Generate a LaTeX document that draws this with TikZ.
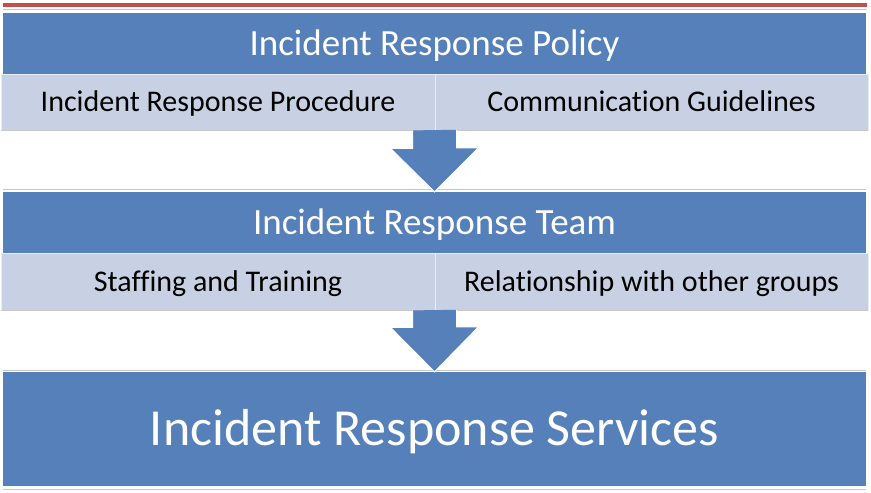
\documentclass[tikz,border=0pt]{standalone}
\usepackage{fontspec}
\setmainfont{Carlito}[Ligatures={CommonOff,RareOff,ContextualOff}]
\usepackage{tikz}
\usetikzlibrary{positioning,calc}
\definecolor{barblue}{RGB}{85,128,186}
\definecolor{rowblue}{RGB}{200,208,227}
\definecolor{rulered}{RGB}{192,80,77}
\tikzset{
    bar/.style={
        rectangle,
        fill=barblue,
        text=white,
        minimum width=863pt,
        minimum height=61pt,
        inner sep=0pt,
        text height=24pt,
        text depth=0pt,
        font=\fontsize{37}{40}\selectfont
    },
    cell/.style={
        rectangle,
        fill=rowblue,
        draw=rowblue!40!white,
        line width=0.8pt,
        minimum height=56pt,
        inner sep=0pt,
        text height=19.5pt,
        text depth=0pt,
        font=\fontsize{30}{33}\selectfont
    },
    blockarrow/.style={
        fill=barblue,
        draw=white,
        line width=1pt,
        line join=miter
    },
    shadowline/.style={
        draw=black!22,
        line width=0.9pt
    }
}

\begin{document}
\begin{tikzpicture}[x=1pt, y=-1pt]
    \useasboundingbox (0,0) rectangle (871,493);

    % top rule
    \draw[rulered, line width=4pt] (3,5) -- (867,5);
    \draw[shadowline] (3,9.5) -- (867,9.5);

    % policy
    \node[bar] (policy) at (434.5,43.5) {Incident Response Policy};
    \node[cell, minimum width=434pt] (procedure) at (218,102) {Incident Response Procedure};
    \node[cell, minimum width=433pt] (guidelines) at (651.5,102) {Communication Guidelines};
    \draw[shadowline] (procedure.south west) -- (guidelines.south east);

    % team
    \draw[shadowline] (3,189) -- (866,189);
    \node[bar] (team) at (434.5,222.5) {Incident Response Team};
    \node[cell, minimum width=434pt, minimum height=57pt] (staffing) at (218,281.5) {Staffing and Training};
    \node[cell, minimum width=433pt, minimum height=57pt] (relations) at (651.5,281.5) {Relationship with other groups};
    \draw[shadowline] (staffing.south west) -- (relations.south east);

    % services
    \draw[shadowline] (3,370) -- (866,370);
    \node[bar, minimum height=114pt, text height=33.5pt, font=\fontsize{52}{56}\selectfont] (services) at (434.5,429) {Incident Response Services};
    \draw[shadowline] (3,489) -- (866,489);

    % arrows
    \coordinate (tail1) at (team.north |- procedure.south);
    \coordinate (tail2) at (services.north |- staffing.south);
    \path[blockarrow] ([xshift=-22pt]tail1) -- ++(0,18) -- ++(-22,0) -- (team.north)
        -- ++(44,-44) -- ++(-22,0) -- ++(0,-18);
    \path[blockarrow] ([xshift=-22pt]tail2) -- ++(0,17) -- ++(-22,0) -- (services.north)
        -- ++(44,-45) -- ++(-22,0) -- ++(0,-17);
\end{tikzpicture}
\end{document}
